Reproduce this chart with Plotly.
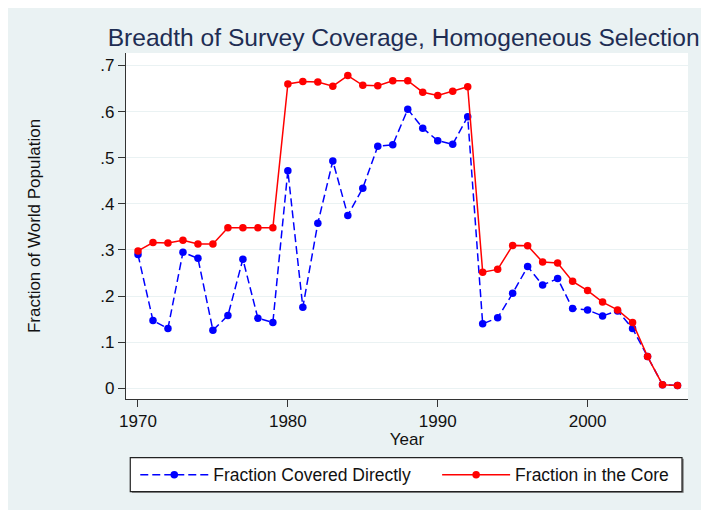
import plotly.graph_objects as go

years = list(range(1970, 2007))
covered_directly = [0.290, 0.147, 0.130, 0.295, 0.282, 0.126, 0.158, 0.280, 0.152, 0.143,
                    0.472, 0.176, 0.358, 0.493, 0.375, 0.434, 0.525, 0.528, 0.605, 0.564,
                    0.537, 0.529, 0.589, 0.140, 0.153, 0.206, 0.264, 0.224, 0.238, 0.173,
                    0.170, 0.157, 0.168, 0.130, 0.069, 0.008, 0.006]
in_core = [0.298, 0.316, 0.315, 0.321, 0.313, 0.313, 0.348, 0.348, 0.348, 0.348,
           0.660, 0.665, 0.664, 0.655, 0.678, 0.657, 0.656, 0.667, 0.667, 0.642,
           0.635, 0.644, 0.654, 0.252, 0.258, 0.310, 0.309, 0.274, 0.272, 0.232,
           0.212, 0.187, 0.170, 0.143, 0.069, 0.008, 0.006]
y_ticks = [0, 0.1, 0.2, 0.3, 0.4, 0.5, 0.6, 0.7]
y_labels = ["0", ".1", ".2", ".3", ".4", ".5", ".6", ".7"]
x_ticks = [1970, 1980, 1990, 2000]

FONT = "Arial, Liberation Sans, sans-serif"
BG = "#EAF2F3"

fig = go.Figure()
fig.add_trace(go.Scatter(
    x=years, y=covered_directly, mode="lines+markers",
    name="Fraction Covered Directly", legend="legend",
    line=dict(color="#0000FF", width=1.5, dash="8px,4px"),
    marker=dict(color="#0000FF", size=7.5),
))
fig.add_trace(go.Scatter(
    x=years, y=in_core, mode="lines+markers",
    name="Fraction in the Core", legend="legend2",
    line=dict(color="#FF0000", width=1.5),
    marker=dict(color="#FF0000", size=7.5),
))

# legend frame
fig.add_shape(type="rect", xref="paper", yref="paper",
              x0=0.0105, x1=0.9923, y0=-0.2708, y1=-0.1727,
              line=dict(width=0), fillcolor="#777777", layer="below")
fig.add_shape(type="rect", xref="paper", yref="paper",
              x0=0.0076, x1=0.9893, y0=-0.2679, y1=-0.1697,
              line=dict(color="#222222", width=1.2), fillcolor="white", layer="below")

legend_common = dict(orientation="h", y=-0.219, yanchor="middle",
                     bgcolor="rgba(0,0,0,0)", borderwidth=0,
                     font=dict(family=FONT, size=17.5, color="#111111"),
                     itemwidth=68)

fig.update_layout(
    width=709, height=510,
    paper_bgcolor=BG, plot_bgcolor="white",
    margin=dict(l=118, r=29, t=45, b=119),
    font=dict(family=FONT, size=17, color="#111111"),
    title=dict(text="Breadth of Survey Coverage, Homogeneous Selection",
               font=dict(family=FONT, size=24.6, color="#1E2D53"),
               xref="paper", x=0.494, xanchor="center",
               yref="container", y=0.943, yanchor="middle"),
    showlegend=True,
    legend=dict(x=0.0165, xanchor="left", **legend_common),
    legend2=dict(x=0.5536, xanchor="left", **legend_common),
    xaxis=dict(range=[1969.2, 2006.7], tickvals=x_ticks, showgrid=False,
               showline=True, linecolor="#333333", linewidth=1.2,
               ticks="outside", ticklen=7, tickcolor="#333333", zeroline=False,
               ticklabelstandoff=-1,
               title=dict(text="Year", standoff=0, font=dict(size=17))),
    yaxis=dict(range=[-0.023, 0.727], tickvals=y_ticks, ticktext=y_labels,
               showgrid=True, gridcolor=BG, gridwidth=1.2,
               showline=True, linecolor="#333333", linewidth=1.2,
               ticks="outside", ticklen=7, tickcolor="#333333", zeroline=False,
               title=dict(text="Fraction of World Population", standoff=55, font=dict(size=17))),
)

fig.write_html("out.html")
